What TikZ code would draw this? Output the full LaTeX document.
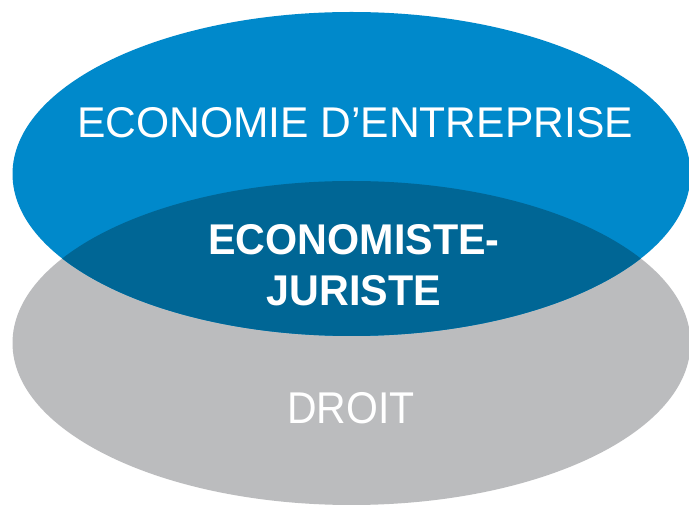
\documentclass[tikz,border=0pt]{standalone}
\usepackage{fontspec}
\setmainfont{Liberation Sans}
\newfontfamily\lightfont[FakeStretch=0.99]{Liberation Sans}
\newfontfamily\boldfont[FakeStretch=0.96]{Liberation Sans Bold}
\newfontfamily\droitfont[FakeStretch=0.92]{Liberation Sans}
\definecolor{topblue}{HTML}{0089CB}
\definecolor{darkblue}{HTML}{006695}
\definecolor{lawgray}{HTML}{BBBCBE}
\tikzset{
  label text/.style={text=white, inner sep=0pt, align=center},
}
\begin{document}
\begin{tikzpicture}[x=1pt,y=1pt]
\useasboundingbox (0,0) rectangle (689,506);
\fill[white] (0,0) rectangle (689,506);
\fill[lawgray] (351.5,163) ellipse [x radius=339, y radius=162];
\fill[topblue] (351.5,332) ellipse [x radius=339, y radius=162];
\begin{scope}
  \clip (351.5,332) ellipse [x radius=339, y radius=162];
  \fill[darkblue] (351.5,163) ellipse [x radius=339, y radius=162];
\end{scope}
\node[label text, font=\lightfont\fontsize{43}{51}\selectfont] (eco) at (355,383) {ECONOMIE D’ENTREPRISE};
\node[label text, font=\boldfont\fontsize{43}{51}\selectfont] (ej) at (354,241) {ECONOMISTE-\\JURISTE};
\node[label text, font=\droitfont\fontsize{44.5}{51}\selectfont] (droit) at (351,98) {DROIT};
\end{tikzpicture}
\end{document}
